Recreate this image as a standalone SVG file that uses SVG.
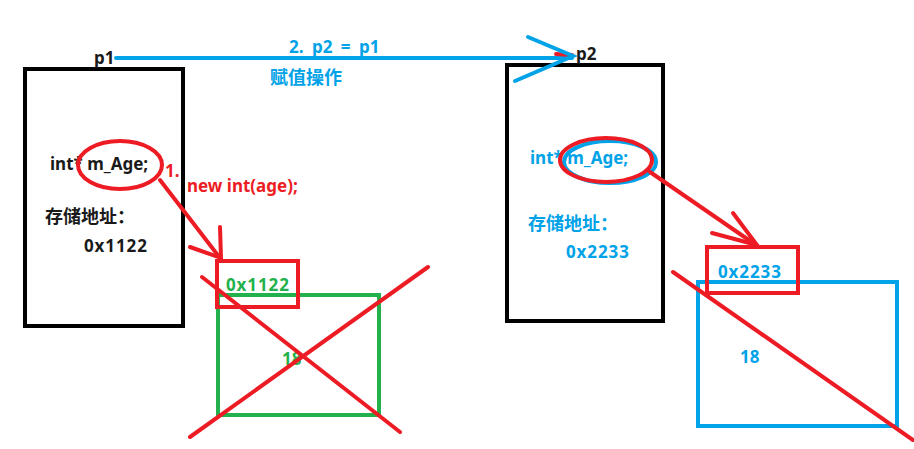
<svg xmlns="http://www.w3.org/2000/svg" width="914" height="449" viewBox="0 0 914 449">
<style>
text{font-family:"Noto Sans","Noto Sans CJK SC",sans-serif;font-weight:bold;font-size:17px}
.cjk{font-size:18px}
.hex{letter-spacing:0.9px}
.k{fill:#1a1a1a}.b{fill:#00a2e8}.r{fill:#ed1c24}.g{fill:#22b14c}
.box{fill:none;stroke:#000;stroke-width:4}
.rl{fill:none;stroke:#ed1c24;stroke-width:4;stroke-linecap:round}
.bl{fill:none;stroke:#00a2e8;stroke-width:4;stroke-linecap:round}
.gl{fill:none;stroke:#22b14c;stroke-width:4}
</style>
<rect width="914" height="449" fill="#fff"/>
<g id="p1">
<rect class="box" x="25" y="69" width="158" height="257"/>
<text class="k" x="94" y="64">p1</text>
<text class="k" x="50" y="170">int* m_Age;</text>
<text class="k cjk" x="45" y="223">存储地址：</text>
<text class="k hex" x="84" y="252">0x1122</text>
<ellipse class="rl" cx="120" cy="165" rx="42" ry="24"/>
</g>
<g id="p2">
<rect class="box" x="507" y="65" width="156" height="256"/>
<text class="k" x="576" y="60">p2</text>
<ellipse class="bl" cx="610" cy="162" rx="46" ry="21" stroke-width="3"/>
<text class="b" x="530" y="164">int* m_Age;</text>
<ellipse class="rl" cx="606" cy="160" rx="46" ry="22"/>
<text class="b cjk" x="528" y="230">存储地址：</text>
<text class="b hex" x="566" y="258">0x2233</text>
</g>
<g id="heap1">
<rect class="gl" x="218" y="295" width="161" height="120"/>
<text class="g" x="282" y="365">18</text>
<rect class="rl" x="217" y="261" width="81" height="46" stroke-linecap="butt"/>
<text class="g hex" x="226" y="291">0x1122</text>
<line class="rl" x1="190" y1="437" x2="428" y2="267"/>
<line class="rl" x1="202" y1="277" x2="400" y2="432"/>
</g>
<g id="heap2">
<rect class="bl" x="698" y="282" width="199" height="144" stroke-linecap="butt"/>
<text class="b" x="740" y="363">18</text>
<rect class="rl" x="707" y="247" width="91" height="46" stroke-linecap="butt"/>
<text class="b hex" x="718" y="278">0x2233</text>
<line class="rl" x1="673" y1="272" x2="913" y2="440"/>
</g>
<g id="connectors">
<line class="bl" x1="116" y1="58" x2="572" y2="58"/>
<line class="rl" x1="556" y1="54" x2="572" y2="55"/>
<polyline class="bl" points="528,37 573,56 515,81"/>
<text class="b" x="289" y="53" word-spacing="4">2. p2 = p1</text>
<text class="b cjk" x="270" y="84">赋值操作</text>
<line class="rl" x1="160" y1="180" x2="220" y2="258"/>
<polyline class="rl" points="220,227 221,258 190,247"/>
<text class="r" x="165" y="177">1.</text>
<text class="r" x="187" y="192">new int(age);</text>
<line class="rl" x1="650" y1="172" x2="756" y2="245"/>
<polyline class="rl" points="733,213 757,245 712,233"/>
</g>
</svg>
